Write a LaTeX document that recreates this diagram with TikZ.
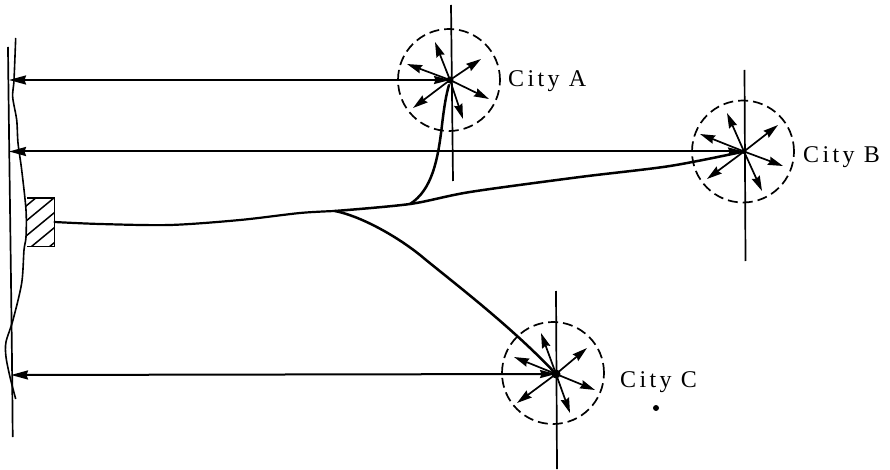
\documentclass[tikz,border=0pt]{standalone}
\usepackage{fontspec}
\newfontfamily\lab[LetterSpace=14]{Liberation Serif}
\usetikzlibrary{arrows.meta}
\tikzset{
  ring/.style={circle,draw,minimum size=102pt,inner sep=0pt,line width=1.7pt,dash pattern=on 10pt off 5pt},
  axis/.style={line width=1.7pt,black},
  ray/.style={line width=1.7pt,-{Stealth[length=15pt,width=8.5pt,inset=1.5pt]}},
  span/.style={line width=2pt,{Stealth[length=17pt,width=9pt,inset=1.5pt]}-{Stealth[length=16pt,width=8pt,inset=1.5pt]}},
  road/.style={line width=2.5pt,line join=round,line cap=round},
  shore/.style={line width=1.6pt,line join=round},
  citylabel/.style={anchor=base west,inner sep=0pt,font=\lab\fontsize{24}{26}\selectfont},
  hub/.style={circle,fill=black,minimum size=7pt,inner sep=0pt},
}
\begin{document}
\begin{tikzpicture}[x=1pt,y=-1pt]
\useasboundingbox[fill=white] (0,0) rectangle (890,470);
% centres
\coordinate (cA) at (450,80);
\coordinate (cB) at (744,151.5);
\coordinate (cC) at (556,374);
\coordinate (eA) at (9,80);
\coordinate (eB) at (9,151.5);
\coordinate (eC) at (11,375);
% coast
\draw[axis] (8,47) .. controls (9,150) and (12,330) .. (12.7,437);
\draw[shore] plot[smooth,tension=0.5] coordinates {(15.7,38) (14,80) (12.7,97) (16.7,120) (18,143) (21.7,170) (26,210) (26,237) (24,250) (21.7,283) (13,320) (6,342) (6,357) (10,377) (15.7,399)};
% factory
\begin{scope}
\clip (26,198) rectangle (54.5,246.5);
\foreach \d in {-14,1,...,70} \draw[line width=1.5pt] (20,\d+210) -- (60,\d+177);
\end{scope}
\draw[line width=1.8pt,fill=none] (27,198) -- (54.5,198) -- (54.5,246.5) -- (27,246.5);
\coordinate (plant) at (54.5,222);
\coordinate (fork) at (335,211);
\coordinate (forkA) at (410,204);
% roads
\draw[road,line width=2.2pt] plot[smooth,tension=0.5] coordinates {(plant) (100,224) (170,225) (240,220) (300,213) (fork)};
\draw[road] plot[smooth,tension=0.5] coordinates {(fork) (forkA) (470,192) (580,177) (670,166) (cB)};
\draw[road] (forkA) .. controls (432,190) and (438,160) .. (442,125) .. controls (444,108) and (446,95) .. (449,85);
\draw[road] (fork) .. controls (360,216) and (395,235) .. (420,255) .. controls (450,280) and (510,325) .. (cC);
% axes
\draw[axis] (451,5) -- (453,181);
\draw[axis] (744.5,70) -- (745.5,261);
\draw[axis] (556,291) -- (557,469);
% rings
\node[ring] (rA) at (449,80) {};
\node[ring] (rB) at (743,151.5) {};
\node[ring] (rC) at (553,373) {};
% distances
\draw[span] (eA) -- (cA);
\draw[span] (eB) -- (cB);
\draw[span] (eC) -- (cC);
% hubs
\node[hub] (hA) at (cA) {};
\node[hub,minimum size=5pt] (hB) at (cB) {};
\node[hub,minimum size=9pt] (hC) at (cC) {};
% rays
\foreach \dx/\dy in {-15/-38,-43/-16,31/-21,39/19,13/39,-37/28} \draw[ray] (cA) -- ++(\dx,\dy);
\foreach \dx/\dy in {-17/-38.5,-44/-17.5,34/-26.5,39/14.5,18/39.5,-37/27.5} \draw[ray] (cB) -- ++(\dx,\dy);
\foreach \dx/\dy in {-15/-41,-42/-17,31/-26,39/16,14/39,-39/29} \draw[ray] (cC) -- ++(\dx,\dy);
% labels
\node[citylabel] (lA) at (508,87) {City A};
\node[citylabel] (lB) at (803,163) {City B};
\node[citylabel] (lC) at (620,387) {City C};
\node[circle,fill=black,minimum size=6pt,inner sep=0pt] (speck) at (656,408) {};
\end{tikzpicture}
\end{document}
